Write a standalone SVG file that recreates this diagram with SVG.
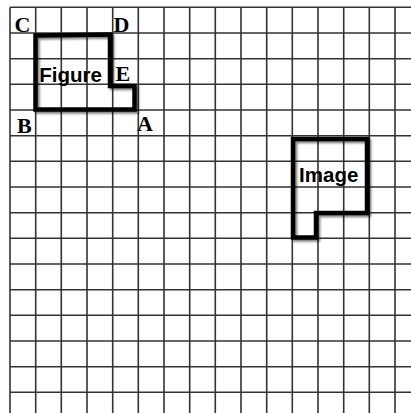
<svg xmlns="http://www.w3.org/2000/svg" width="411" height="413" viewBox="0 0 411 413">
<defs>
<style>
.grid line{stroke:#333;stroke-width:1.6}
.shape{fill:none;stroke:#000;stroke-width:4.5;stroke-linejoin:miter;filter:url(#sh)}
.lbl{font-family:"Liberation Serif","Times New Roman",serif;font-weight:bold;font-size:22px;fill:#000}
.name{font-family:"Liberation Sans",Arial,sans-serif;font-weight:bold;font-size:20.5px;fill:#000;text-anchor:middle}
</style>
<filter id="sh" x="-10%" y="-10%" width="130%" height="130%">
<feGaussianBlur in="SourceAlpha" stdDeviation="1.2"/>
<feOffset dx="1.5" dy="1.5" result="b"/>
<feComponentTransfer><feFuncA type="linear" slope="0.5"/></feComponentTransfer>
<feMerge><feMergeNode/><feMergeNode in="SourceGraphic"/></feMerge>
</filter>
</defs>
<rect width="411" height="413" fill="#fff"/>
<g class="grid" id="grid">
<line x1="10" y1="7.3" x2="10" y2="413"/>
<line x1="35.7" y1="7.3" x2="35.7" y2="413"/>
<line x1="61.3" y1="7.3" x2="61.3" y2="413"/>
<line x1="87" y1="7.3" x2="87" y2="413"/>
<line x1="112.7" y1="7.3" x2="112.7" y2="413"/>
<line x1="138.3" y1="7.3" x2="138.3" y2="413"/>
<line x1="164" y1="7.3" x2="164" y2="413"/>
<line x1="189.7" y1="7.3" x2="189.7" y2="413"/>
<line x1="215.3" y1="7.3" x2="215.3" y2="413"/>
<line x1="241" y1="7.3" x2="241" y2="413"/>
<line x1="266.7" y1="7.3" x2="266.7" y2="413"/>
<line x1="292.3" y1="7.3" x2="292.3" y2="413"/>
<line x1="318" y1="7.3" x2="318" y2="413"/>
<line x1="343.7" y1="7.3" x2="343.7" y2="413"/>
<line x1="369.3" y1="7.3" x2="369.3" y2="413"/>
<line x1="395" y1="7.3" x2="395" y2="413"/>
<line x1="10" y1="7.3" x2="411" y2="7.3"/>
<line x1="10" y1="33" x2="411" y2="33"/>
<line x1="10" y1="58.7" x2="411" y2="58.7"/>
<line x1="10" y1="84.3" x2="411" y2="84.3"/>
<line x1="10" y1="110" x2="411" y2="110"/>
<line x1="10" y1="135.7" x2="411" y2="135.7"/>
<line x1="10" y1="161.3" x2="411" y2="161.3"/>
<line x1="10" y1="187" x2="411" y2="187"/>
<line x1="10" y1="212.7" x2="411" y2="212.7"/>
<line x1="10" y1="238.3" x2="411" y2="238.3"/>
<line x1="10" y1="264" x2="411" y2="264"/>
<line x1="10" y1="289.7" x2="411" y2="289.7"/>
<line x1="10" y1="315.3" x2="411" y2="315.3"/>
<line x1="10" y1="341" x2="411" y2="341"/>
<line x1="10" y1="366.7" x2="411" y2="366.7"/>
<line x1="10" y1="392.3" x2="411" y2="392.3"/>
</g>
<g id="figure">
<polygon class="shape" points="35.5,35.5 110,34.5 110,86 134.5,86 134.5,109.5 35.5,109.5"/>
<text class="name" x="70.5" y="82">Figure</text>
</g>
<g id="image">
<polygon class="shape" points="293,139 367,139 367,213 316,213 316,237.5 293,237.5"/>
<text class="name" x="328.7" y="182">Image</text>
</g>
<g id="labels">
<text class="lbl" x="14.5" y="32">C</text>
<text class="lbl" x="113.5" y="32">D</text>
<text class="lbl" x="115.5" y="81">E</text>
<text class="lbl" x="17" y="133">B</text>
<text class="lbl" x="137" y="131">A</text>
</g>
</svg>
